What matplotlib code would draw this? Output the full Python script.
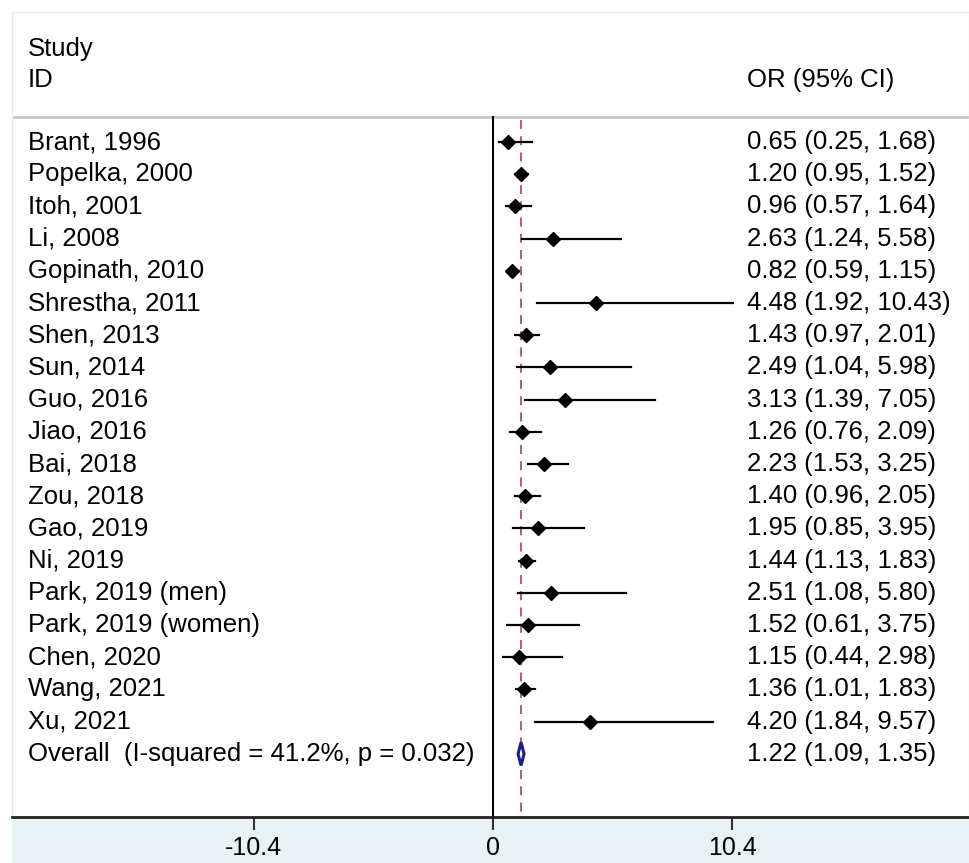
import matplotlib.pyplot as plt
from matplotlib.patches import Polygon, Rectangle
import matplotlib.transforms as mtransforms

plt.rcParams['font.family'] = ['Liberation Sans', 'DejaVu Sans']

# Study data
studies = ['Brant, 1996', 'Popelka, 2000', 'Itoh, 2001', 'Li, 2008', 'Gopinath, 2010',
           'Shrestha, 2011', 'Shen, 2013', 'Sun, 2014', 'Guo, 2016', 'Jiao, 2016',
           'Bai, 2018', 'Zou, 2018', 'Gao, 2019', 'Ni, 2019', 'Park, 2019 (men)',
           'Park, 2019 (women)', 'Chen, 2020', 'Wang, 2021', 'Xu, 2021']
or_vals = [0.65, 1.20, 0.96, 2.63, 0.82, 4.48, 1.43, 2.49, 3.13, 1.26,
           2.23, 1.40, 1.95, 1.44, 2.51, 1.52, 1.15, 1.36, 4.20]
ci_low = [0.25, 0.95, 0.57, 1.24, 0.59, 1.92, 0.97, 1.04, 1.39, 0.76,
          1.53, 0.96, 0.85, 1.13, 1.08, 0.61, 0.44, 1.01, 1.84]
ci_high = [1.68, 1.52, 1.64, 5.58, 1.15, 10.43, 2.01, 5.98, 7.05, 2.09,
           3.25, 2.05, 3.95, 1.83, 5.80, 3.75, 2.98, 1.83, 9.57]

overall_label = 'Overall  (I-squared = 41.2%, p = 0.032)'
overall = (1.22, 1.09, 1.35)

xticks = [-10.4, 0, 10.4]
xtick_labels = ['-10.4', '0', '10.4']

W, H = 969, 863
fig = plt.figure(figsize=(W / 100, H / 100), dpi=100)
fig.patch.set_facecolor('white')

# light band under the axis
fig.add_artist(Rectangle((12 / W, 0), (W - 12) / W, (H - 817) / H,
                         transform=fig.transFigure, facecolor='#e8f1f3',
                         edgecolor='none', zorder=0))

ax = fig.add_axes([12 / W, (H - 817) / H, (W - 12) / W, (817 - 12) / H])
ax.set_facecolor('white')
ax.set_xlim((12 - 493) / 23, (W - 493) / 23)
n = len(studies)
ybottom = -n - 1.96
ax.set_ylim(ybottom, 4.04)

for s in ['top', 'left', 'right']:
    ax.spines[s].set_color('#e3ecef')
    ax.spines[s].set_linewidth(1)
ax.spines['bottom'].set_color('#222222')
ax.spines['bottom'].set_linewidth(2)
ax.set_yticks([])
ax.set_xticks(xticks)
ax.set_xticklabels(xtick_labels, fontsize=18)
ax.tick_params(axis='x', direction='out', length=9, width=1.5, color='#333333', pad=5)

fs = 18.5
trans = mtransforms.blended_transform_factory(ax.transAxes, ax.transData)

# header
ax.axhline(0.78, color='#c8c8c8', lw=2)
ax.text(0.0167, 2.9, 'Study', fontsize=fs, va='center', transform=trans)
ax.text(0.0167, 1.92, 'ID', fontsize=fs, va='center', transform=trans)
ax.text(0.768, 1.92, 'OR (95% CI)', fontsize=fs, va='center', transform=trans)

# reference lines
ax.plot([0, 0], [0.78, ybottom], color='black', lw=1.5, zorder=2)
ax.plot([overall[0], overall[0]], [0.7, ybottom], color='#b0505a', lw=1.3,
        dashes=(5, 4), zorder=2)

for i, name in enumerate(studies):
    y = -i
    ax.plot([ci_low[i], ci_high[i]], [y, y], color='black', lw=1.6, zorder=3)
    ax.plot(or_vals[i], y, marker='D', color='black', markersize=7.5, zorder=4)
    ax.text(0.0167, y, name, fontsize=fs, va='center', transform=trans)
    ax.text(0.768, y, f'{or_vals[i]:.2f} ({ci_low[i]:.2f}, {ci_high[i]:.2f})',
            fontsize=fs, va='center', transform=trans)

# overall diamond
yo = -n
est, lo, hi = overall
dh = 0.36
ax.add_patch(Polygon([(lo, yo), (est, yo + dh), (hi, yo), (est, yo - dh)],
                     closed=True, facecolor='white', edgecolor='#1c1c8c', lw=2.2, zorder=5))
ax.text(0.0167, yo, overall_label, fontsize=fs, va='center', transform=trans)
ax.text(0.768, yo, f'{est:.2f} ({lo:.2f}, {hi:.2f})', fontsize=fs, va='center',
        transform=trans)

fig.savefig('out.png', dpi=100, facecolor='white')
